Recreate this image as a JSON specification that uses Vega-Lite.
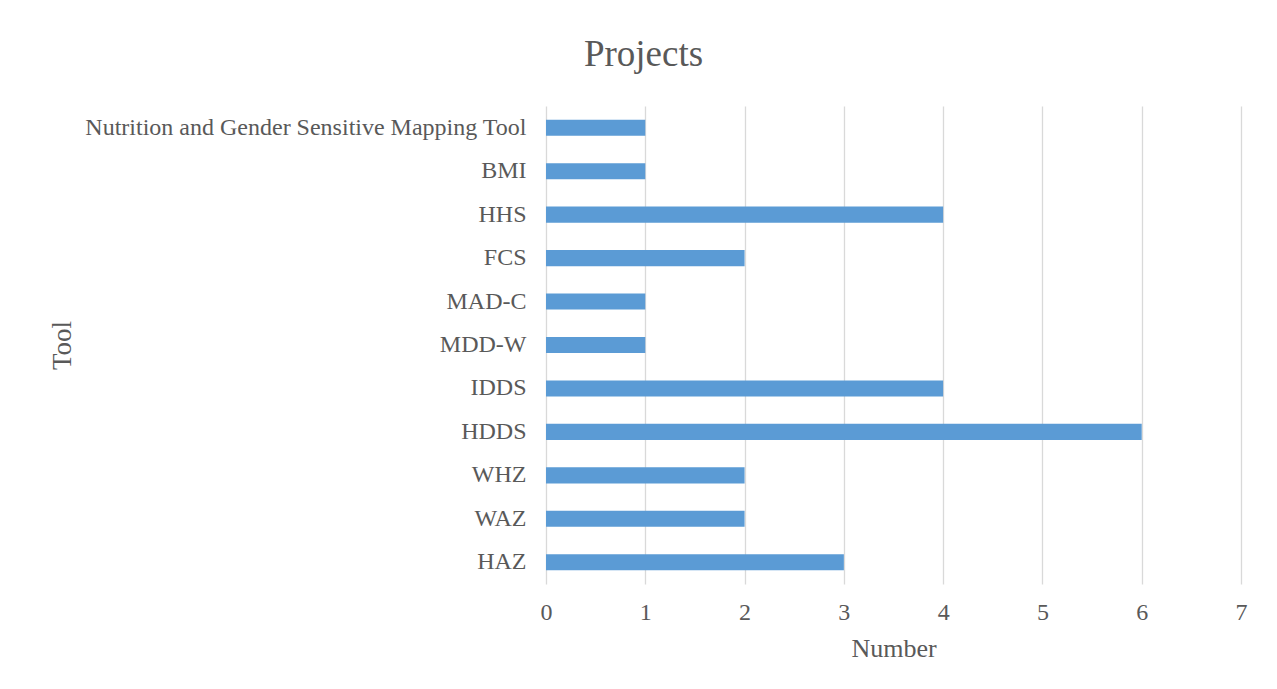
{
  "$schema": "https://vega.github.io/schema/vega-lite/v6.json",
  "autosize": "none",
  "width": 695,
  "height": 478,
  "padding": {"left": 546, "top": 106, "right": 36, "bottom": 105},
  "background": "white",
  "title": {"text": "Projects", "fontSize": 37, "font": "Liberation Serif", "fontWeight": "normal", "color": "#595959", "anchor": "middle", "dx": -250, "offset": 32},
  "data": {"values": [
    {"tool": "Nutrition and Gender Sensitive Mapping Tool", "n": 1},
    {"tool": "BMI", "n": 1},
    {"tool": "HHS", "n": 4},
    {"tool": "FCS", "n": 2},
    {"tool": "MAD-C", "n": 1},
    {"tool": "MDD-W", "n": 1},
    {"tool": "IDDS", "n": 4},
    {"tool": "HDDS", "n": 6},
    {"tool": "WHZ", "n": 2},
    {"tool": "WAZ", "n": 2},
    {"tool": "HAZ", "n": 3}
  ]},
  "mark": {"type": "bar", "color": "#5B9BD5"},
  "encoding": {
    "y": {"field": "tool", "type": "nominal", "sort": null, "title": "Tool",
      "scale": {"paddingInner": 0.63, "paddingOuter": 0.315},
      "axis": {"domain": false, "ticks": false, "labelFont": "Liberation Serif", "labelFontSize": 24, "labelColor": "#595959", "labelPadding": 20, "labelLimit": 600,
        "titleFont": "Liberation Serif", "titleFontSize": 27, "titleFontWeight": "normal", "titleColor": "#595959", "titleX": -484, "titleY": 239, "titleAngle": -90, "titleBaseline": "middle"}},
    "x": {"field": "n", "type": "quantitative", "title": "Number",
      "scale": {"domain": [0, 7]},
      "axis": {"values": [0,1,2,3,4,5,6,7], "domain": false, "ticks": false, "grid": true, "gridColor": "#d9d9d9", "gridWidth": 1.3, "labelFlush": false,
        "labelFont": "Liberation Serif", "labelFontSize": 24, "labelColor": "#595959", "labelPadding": 16,
        "titleFont": "Liberation Serif", "titleFontSize": 26, "titleFontWeight": "normal", "titleColor": "#595959", "titlePadding": 11}}
  },
  "config": {"view": {"stroke": null}}
}
